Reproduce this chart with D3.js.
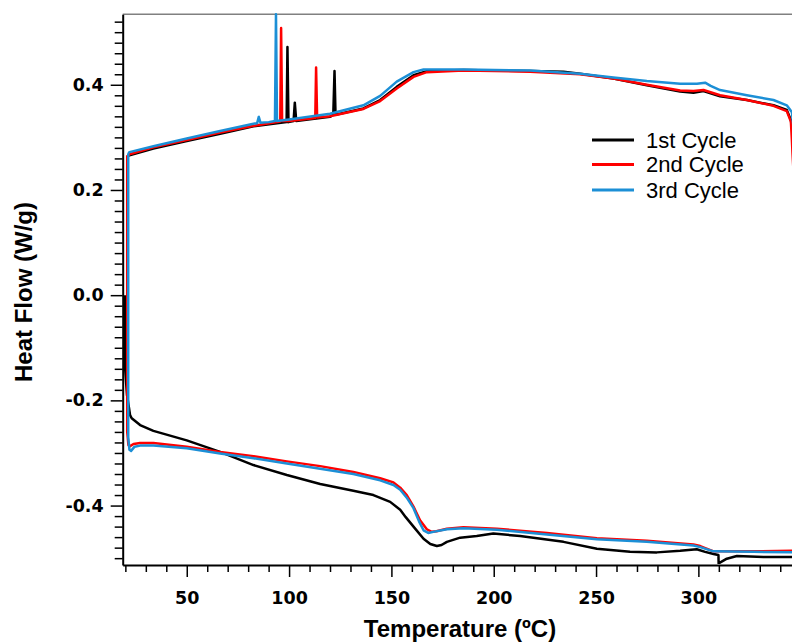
<!DOCTYPE html>
<html>
<head>
<meta charset="utf-8">
<script src="https://cdn.jsdelivr.net/npm/d3@7"></script>
<style>
  body { margin: 0; background: #fff; }
  svg { display: block; font-family: "Liberation Sans", Arial, sans-serif; }
</style>
</head>
<body>
<svg id="chart" width="792" height="643"></svg>
<script>
// [temperature (C), heat flow (W/g)]
const cycle1Heat = [
  [19.7, 0.0], [19.9, -0.14], [20.8, -0.19], [21.8, -0.215], [22.3, -0.228], [23.1, -0.234],
  [27.2, -0.247], [33.7, -0.258], [50, -0.276], [66.3, -0.298], [82.6, -0.323], [98.9, -0.342],
  [115.2, -0.359], [131.4, -0.372], [141.2, -0.380], [149.4, -0.393], [154.3, -0.408], [157, -0.422],
  [160.8, -0.440], [165.7, -0.463], [169, -0.473], [172.2, -0.477], [174.5, -0.475], [177.1, -0.469],
  [183.6, -0.461], [191.7, -0.458], [199.8, -0.453], [212.9, -0.458], [234.1, -0.469], [250.4, -0.482],
  [266.6, -0.488], [279.7, -0.489], [291.1, -0.486], [299.2, -0.483], [303.3, -0.488], [307.4, -0.492],
  [309.8, -0.494], [309.9, -0.510], [313.9, -0.501], [318.8, -0.496], [331.8, -0.498], [347, -0.498]
];
const cycle1Cool = [
  [347, 0.25], [346, 0.31], [345.2, 0.333], [343.2, 0.352], [336.7, 0.361], [323.7, 0.371],
  [310.6, 0.378], [302.5, 0.388], [297.6, 0.385], [291.1, 0.387], [274.8, 0.399], [258.5, 0.412],
  [242.2, 0.421], [234.1, 0.425], [217.8, 0.426], [185.2, 0.428], [167.3, 0.426], [160.8, 0.418],
  [152.6, 0.396], [144.5, 0.371], [136.3, 0.355], [122.7, 0.343], [122.2, 0.426], [121.6, 0.343],
  [120, 0.339], [103.5, 0.331], [102.8, 0.366], [102.2, 0.331], [99.7, 0.329], [99.2, 0.472],
  [98.8, 0.329], [82.6, 0.321], [66.3, 0.307], [50, 0.293], [33.7, 0.279], [22, 0.266], [21.5, 0.265]
];
const cycle2Heat = [
  [20.9, 0.266], [20.9, -0.26], [21.5, -0.285], [22.3, -0.287], [24, -0.283], [27.2, -0.281],
  [33.7, -0.281], [50, -0.288], [66.3, -0.298], [82.6, -0.306], [98.9, -0.316], [115.2, -0.325],
  [131.4, -0.336], [144.5, -0.348], [151, -0.356], [154.3, -0.366], [157.5, -0.38], [160.8, -0.402],
  [164, -0.428], [167.3, -0.445], [169.7, -0.450], [172, -0.449], [177.1, -0.444], [185.2, -0.441],
  [201.5, -0.444], [226, -0.452], [250.4, -0.462], [274.8, -0.467], [297.6, -0.474], [300.9, -0.477],
  [307.4, -0.487], [327, -0.487], [347, -0.486]
];
const cycle2Cool = [
  [347, 0.2], [346, 0.27], [345.7, 0.295], [345.2, 0.33], [343.2, 0.350], [336.7, 0.360],
  [323.7, 0.371], [310.6, 0.380], [302.5, 0.390], [297.6, 0.388], [291.1, 0.389], [274.8, 0.400],
  [258.5, 0.412], [242.2, 0.420], [217.8, 0.425], [185.2, 0.427], [167.3, 0.424], [160.8, 0.415],
  [152.6, 0.393], [144.5, 0.369], [136.3, 0.354], [120, 0.340], [113.7, 0.338], [113.2, 0.433],
  [112.8, 0.337], [100, 0.331], [96.6, 0.331], [96.1, 0.508], [95.7, 0.330], [82.6, 0.322],
  [66.3, 0.309], [50, 0.295], [33.7, 0.281], [22, 0.268], [21.5, 0.266]
];
const cycle3Heat = [
  [21.4, 0.27], [21.4, -0.27], [22, -0.294], [22.8, -0.296], [24.5, -0.288], [27.2, -0.286],
  [33.7, -0.286], [50, -0.291], [66.3, -0.301], [82.6, -0.310], [98.9, -0.320], [115.2, -0.330],
  [131.4, -0.340], [144.5, -0.352], [151, -0.361], [154.3, -0.370], [157.5, -0.385], [160.8, -0.405],
  [163.5, -0.430], [165.7, -0.447], [168, -0.452], [170.5, -0.450], [177.1, -0.445], [185.2, -0.443],
  [201.5, -0.446], [226, -0.455], [250.4, -0.464], [274.8, -0.469], [297.6, -0.476], [300.9, -0.479],
  [307.4, -0.487], [327, -0.488], [347, -0.489]
];
const cycle3Cool = [
  [347, 0.3], [345.7, 0.348], [343.2, 0.361], [336.7, 0.371], [323.7, 0.380], [310.6, 0.390],
  [306, 0.398], [303.3, 0.404], [299.3, 0.402], [291.1, 0.402], [274.8, 0.407], [258.5, 0.414],
  [242.2, 0.421], [217.8, 0.427], [185.2, 0.429], [165.7, 0.429], [160.8, 0.424], [152.6, 0.406],
  [144.5, 0.379], [136.3, 0.361], [120, 0.345], [100, 0.334], [94.1, 0.331], [93.6, 0.534],
  [93.1, 0.331], [90, 0.329], [86, 0.328], [85.2, 0.339], [84.4, 0.327], [82.6, 0.326],
  [66.3, 0.312], [50, 0.298], [33.7, 0.283], [22, 0.272], [21.4, 0.27]
];

const seriesNames = ['1st Cycle', '2nd Cycle', '3rd Cycle'];
const seriesColors = ['#000000', '#ff0000', '#1c8fd6'];
const xTickValues = [50, 100, 150, 200, 250, 300];
const yTickValues = [-0.4, -0.2, 0.0, 0.2, 0.4];

const cycles = [
  cycle1Heat.concat(cycle1Cool),
  cycle2Heat.concat(cycle2Cool),
  cycle3Heat.concat(cycle3Cool)
];

const svg = d3.select('#chart');
const plot = { left: 122.7, right: 800.7, top: 14.3, bottom: 565 };

const x = d3.scaleLinear().domain([18.7, 350]).range([plot.left, plot.right]);
const y = d3.scaleLinear().domain([-0.513, 0.534]).range([plot.bottom, plot.top]);

// top frame line (grey)
svg.append('line')
  .attr('x1', plot.left).attr('x2', plot.right)
  .attr('y1', plot.top).attr('y2', plot.top)
  .attr('stroke', '#808080')
  .attr('stroke-width', 1.5);

// minor ticks
const xMinor = d3.range(20, 350, 10).filter(v => v % 50 !== 0);
const yMinor = d3.range(-50, 53, 2).map(v => v / 100).filter(v => Math.abs(Math.round(v * 100)) % 20 !== 0);

svg.append('g')
  .attr('transform', `translate(0, ${plot.bottom})`)
  .call(d3.axisBottom(x).tickValues(xMinor).tickSize(7).tickSizeOuter(0).tickFormat(''))
  .call(g => g.select('.domain').remove())
  .selectAll('line').attr('stroke-width', 1.5);

svg.append('g')
  .attr('transform', `translate(${plot.left}, 0)`)
  .call(d3.axisLeft(y).tickValues(yMinor).tickSize(8).tickSizeOuter(0).tickFormat(''))
  .call(g => g.select('.domain').remove())
  .selectAll('line').attr('stroke-width', 1.5);

// major axes
const xAxis = svg.append('g')
  .attr('transform', `translate(0, ${plot.bottom})`)
  .call(d3.axisBottom(x).tickValues(xTickValues).tickSize(12).tickSizeOuter(0).tickPadding(15));

const yAxis = svg.append('g')
  .attr('transform', `translate(${plot.left}, 0)`)
  .call(d3.axisLeft(y).tickValues(yTickValues).tickSize(12).tickSizeOuter(0).tickPadding(7)
    .tickFormat(d => d.toFixed(1)));

[xAxis, yAxis].forEach(g => {
  g.select('.domain').attr('stroke-width', 2);
  g.selectAll('.tick line').attr('stroke-width', 1.5);
  g.selectAll('.tick text')
    .attr('font-family', '"DejaVu Sans", Verdana, sans-serif')
    .attr('font-size', 17.5)
    .attr('font-weight', 'bold')
    .attr('fill', '#000');
});

// axis titles
svg.append('text')
  .attr('x', 460)
  .attr('y', 637)
  .attr('text-anchor', 'middle')
  .attr('font-size', 24)
  .attr('font-weight', 'bold')
  .text('Temperature (ºC)');

svg.append('text')
  .attr('transform', 'translate(32, 292) rotate(-90)')
  .attr('text-anchor', 'middle')
  .attr('font-size', 24)
  .attr('font-weight', 'bold')
  .text('Heat Flow (W/g)');

// data
svg.append('clipPath')
  .attr('id', 'plot-clip')
  .append('rect')
  .attr('x', plot.left + 1)
  .attr('y', plot.top - 4)
  .attr('width', plot.right - plot.left)
  .attr('height', plot.bottom - plot.top + 3);

const line = d3.line()
  .x(d => x(d[0]))
  .y(d => y(d[1]));

svg.append('g')
  .attr('clip-path', 'url(#plot-clip)')
  .selectAll('path')
  .data(cycles)
  .join('path')
  .attr('fill', 'none')
  .attr('stroke', (d, i) => seriesColors[i])
  .attr('stroke-width', 2.5)
  .attr('stroke-linejoin', 'round')
  .attr('d', line);

// legend
const legend = svg.append('g');
const legendY = [140, 164.5, 190];

legend.selectAll('line')
  .data(seriesNames)
  .join('line')
  .attr('x1', 592).attr('x2', 634)
  .attr('y1', (d, i) => legendY[i]).attr('y2', (d, i) => legendY[i])
  .attr('stroke', (d, i) => seriesColors[i])
  .attr('stroke-width', 3);

legend.selectAll('text')
  .data(seriesNames)
  .join('text')
  .attr('x', 646)
  .attr('y', (d, i) => legendY[i] + 7.5)
  .attr('font-size', 22)
  .attr('fill', '#000')
  .text(d => d);
</script>
</body>
</html>
